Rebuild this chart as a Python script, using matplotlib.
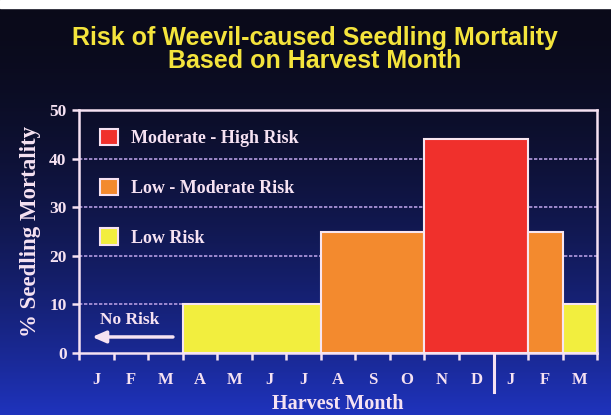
import numpy as np
import matplotlib
matplotlib.use("Agg")
import matplotlib.pyplot as plt
from matplotlib.patches import Patch

# data
months = ['J', 'F', 'M', 'A', 'M', 'J', 'J', 'A', 'S', 'O', 'N', 'D', 'J', 'F', 'M']
bar_start = [3, 7, 10, 13, 14]          # month index where each block begins
bar_width = [4, 3, 3, 1, 1]             # number of months covered
mortality = [10, 25, 44, 25, 10]        # % seedling mortality
risk = ['low', 'lowmod', 'modhigh', 'lowmod', 'low']
risk_labels = {'modhigh': 'Moderate - High Risk',
               'lowmod': 'Low - Moderate Risk',
               'low': 'Low Risk'}
risk_colors = {'modhigh': '#f0302c', 'lowmod': '#f38a2e', 'low': '#f2ee3e'}
yticks = [0, 10, 20, 30, 40, 50]

fg = '#f6e2f2'
serif = 'Liberation Serif'

fig = plt.figure(figsize=(6.11, 4.15), dpi=100)

# slide background gradient
bg = fig.add_axes([0, 0, 1, 1])
grad = np.linspace(0, 1, 256)[:, None]
top = np.array([0.04, 0.04, 0.10])
bot = np.array([0.12, 0.20, 0.74])
w = grad ** 1.8
img = top * (1 - w[..., None]) + bot * w[..., None]
img = np.repeat(img, 2, axis=1)
bg.imshow(img, aspect='auto', extent=[0, 1, 0, 1], origin='upper')
bg.axhspan(0.98, 1.0, color='white')
bg.set_xlim(0, 1)
bg.set_ylim(0, 1)
bg.axis('off')

fig.text(0.515, 0.88, 'Risk of Weevil-caused Seedling Mortality\nBased on Harvest Month',
         ha='center', va='center', color='#f4e43c', fontsize=18,
         fontweight='heavy', family='Liberation Sans', linespacing=0.95)

ax = fig.add_axes([0.1293, 0.1494, 0.848, 0.5855])
ax.patch.set_alpha(0)

for y in yticks[1:-1]:
    ax.axhline(y, color='#b49ce0', lw=1.2, ls=(0, (2, 1)), zorder=1)

cols = [risk_colors[r] for r in risk]
ax.bar(bar_start, mortality, width=bar_width, align='edge', color=cols,
       edgecolor='#f8e6f0', linewidth=1.5, zorder=3)

ax.set_xlim(0, 15)
ax.set_ylim(0, 50)
for s in ax.spines.values():
    s.set_color(fg)
    s.set_linewidth(1.8)

ax.set_yticks(yticks)
ax.set_yticklabels([str(v) for v in yticks], color=fg, fontsize=12.5,
                   fontweight='bold', family=serif)
ax.set_xticks(np.arange(0, 16))
ax.set_xticklabels([])
ax.set_xticks(np.arange(15) + 0.5, minor=True)
ax.set_xticklabels(months, minor=True, color=fg, fontsize=12,
                   fontweight='bold', family=serif)
ax.tick_params(axis='x', which='major', length=5, width=1.8, color=fg, direction='out')
ax.tick_params(axis='x', which='minor', length=0, pad=14)
ax.tick_params(axis='y', length=5, width=1.8, color=fg, pad=4)

# year divider below the axis
ax.plot([12, 12], [0, -8], color=fg, lw=2.2, clip_on=False)

ax.set_xlabel('Harvest Month', color=fg, fontsize=14.5, fontweight='bold',
              family=serif, labelpad=4)
ax.set_ylabel('% Seedling Mortality', color=fg, fontsize=16.5, fontweight='bold',
              family=serif, labelpad=6)

handles = [Patch(facecolor=risk_colors[k], edgecolor=fg, linewidth=1.5,
                 label=risk_labels[k]) for k in ['modhigh', 'lowmod', 'low']]
leg = ax.legend(handles=handles, loc='upper left', bbox_to_anchor=(0.01, 0.99),
                frameon=False, handlelength=1.0, handleheight=1.0,
                labelspacing=1.75, handletextpad=0.7,
                prop={'family': serif, 'weight': 'bold', 'size': 13})
for t in leg.get_texts():
    t.set_color(fg)

ax.text(0.6, 6.8, 'No Risk', color=fg, fontsize=12.5, fontweight='bold',
        family=serif, va='center', ha='left')
ax.annotate('', xy=(0.3, 3.3), xytext=(2.8, 3.3),
            arrowprops=dict(arrowstyle='-|>,head_length=0.8,head_width=0.35',
                            color=fg, lw=2.5))

fig.savefig('out.png', dpi=100)
